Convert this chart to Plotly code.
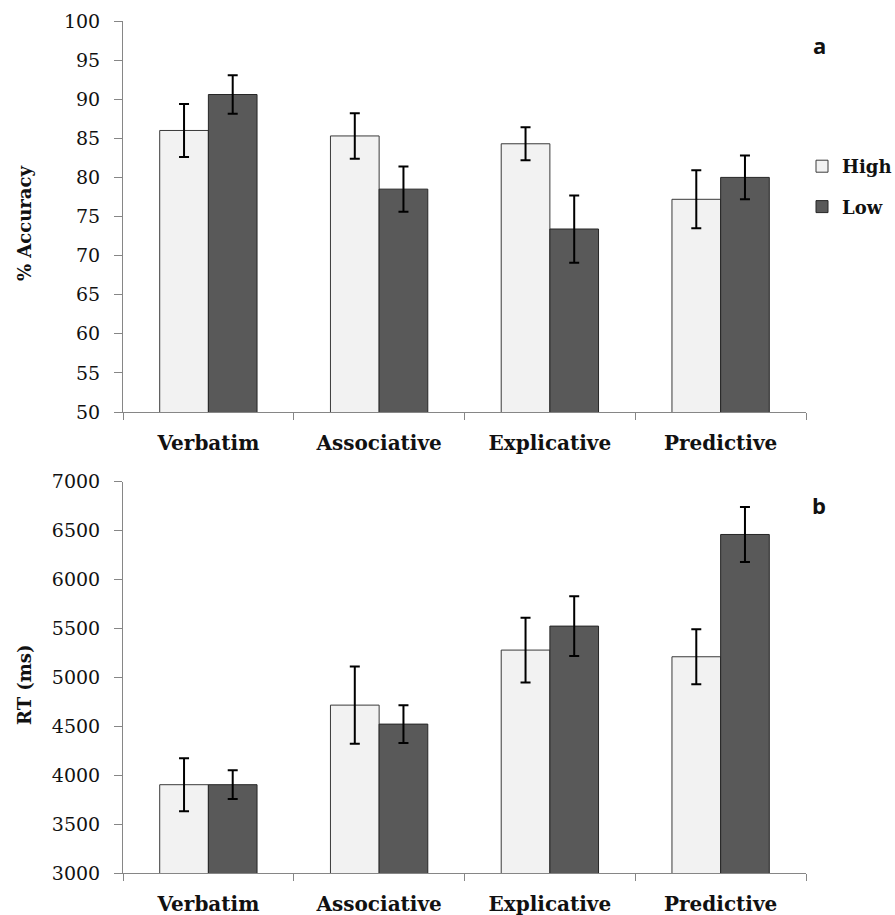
import plotly.graph_objects as go

categories = ["Verbatim", "Associative", "Explicative", "Predictive"]

acc_high = [86.0, 85.3, 84.3, 77.2]
acc_high_err = [3.4, 2.9, 2.1, 3.7]
acc_low = [90.6, 78.5, 73.4, 80.0]
acc_low_err = [2.45, 2.9, 4.3, 2.8]

rt_high = [3905, 4718, 5280, 5212]
rt_high_err = [270, 395, 330, 280]
rt_low = [3905, 4524, 5525, 6461]
rt_low_err = [147, 192, 306, 280]

acc_ticks = list(range(50, 101, 5))
rt_ticks = list(range(3000, 7001, 500))

HIGH_FILL = "#f2f2f2"
LOW_FILL = "#595959"
AXIS_COL = "#868686"
SERIF = "DejaVu Serif"

fig = go.Figure()

def add_pair(high, high_err, low, low_err, xa, ya, show):
    fig.add_trace(go.Bar(
        x=categories, y=high, name="High", xaxis=xa, yaxis=ya,
        marker=dict(color=HIGH_FILL, line=dict(color="#3a3a3a", width=1)),
        error_y=dict(type="data", array=high_err, color="black", thickness=2, width=5),
        showlegend=show, legendgroup="High",
    ))
    fig.add_trace(go.Bar(
        x=categories, y=low, name="Low", xaxis=xa, yaxis=ya,
        marker=dict(color=LOW_FILL, line=dict(color="#262626", width=1)),
        error_y=dict(type="data", array=low_err, color="black", thickness=2, width=5),
        showlegend=show, legendgroup="Low",
    ))

add_pair(acc_high, acc_high_err, acc_low, acc_low_err, "x", "y", True)
add_pair(rt_high, rt_high_err, rt_low, rt_low_err, "x2", "y2", False)

W, H = 895, 915
xdom = [123 / W, 806 / W]

xcommon = dict(
    domain=xdom, showline=True, linecolor=AXIS_COL, linewidth=1,
    ticks="outside", tickson="boundaries", ticklen=7, tickcolor=AXIS_COL,
    tickfont=dict(family=SERIF, size=20, color="#111111", weight="bold"),
    showgrid=False, zeroline=False, fixedrange=True, ticklabelstandoff=13,
    automargin=False,
)
ycommon = dict(
    showline=True, linecolor=AXIS_COL, linewidth=1,
    ticks="outside", ticklen=8, tickcolor=AXIS_COL,
    tickfont=dict(family=SERIF, size=19, color="#111111"),
    showgrid=False, zeroline=False, ticklabelstandoff=10,
    automargin=False,
)

fig.update_layout(
    width=W, height=H,
    margin=dict(l=0, r=0, t=0, b=0, autoexpand=False),
    paper_bgcolor="white", plot_bgcolor="white",
    barmode="group", bargap=0.43, bargroupgap=0,
    xaxis=dict(**xcommon, anchor="y"),
    yaxis=dict(**ycommon, domain=[1 - 412 / H, 1 - 21 / H], range=[50, 100],
               tickvals=acc_ticks, anchor="x"),
    xaxis2=dict(**xcommon, anchor="y2"),
    yaxis2=dict(**ycommon, domain=[1 - 873.3 / H, 1 - 481.7 / H], range=[3000, 7000],
                tickvals=rt_ticks, anchor="x2"),
    legend=dict(x=802 / W, y=1 - 148 / H, xanchor="left", yanchor="top",
                font=dict(family=SERIF, size=18, color="#111111", weight="bold"),
                tracegroupgap=14, traceorder="grouped", bgcolor="rgba(0,0,0,0)"),
    showlegend=True,
)

fig.add_annotation(text="% Accuracy", textangle=-90, x=24 / W, y=1 - 224 / H,
                   xanchor="center", yanchor="middle",
                   xref="paper", yref="paper", showarrow=False,
                   font=dict(family=SERIF, size=18, color="#111111", weight="bold"))
fig.add_annotation(text="RT (ms)", textangle=-90, x=24 / W, y=1 - 685 / H,
                   xanchor="center", yanchor="middle",
                   xref="paper", yref="paper", showarrow=False,
                   font=dict(family=SERIF, size=18, color="#111111", weight="bold"))
fig.add_annotation(text="a", x=819 / W, y=1 - 45 / H, xanchor="center", yanchor="middle",
                   xref="paper", yref="paper", showarrow=False,
                   font=dict(family="Open Sans", size=22, color="#111111", weight="bold"))
fig.add_annotation(text="b", x=819 / W, y=1 - 505 / H, xanchor="center", yanchor="middle",
                   xref="paper", yref="paper", showarrow=False,
                   font=dict(family="Open Sans", size=22, color="#111111", weight="bold"))

fig.write_html("out.html")
